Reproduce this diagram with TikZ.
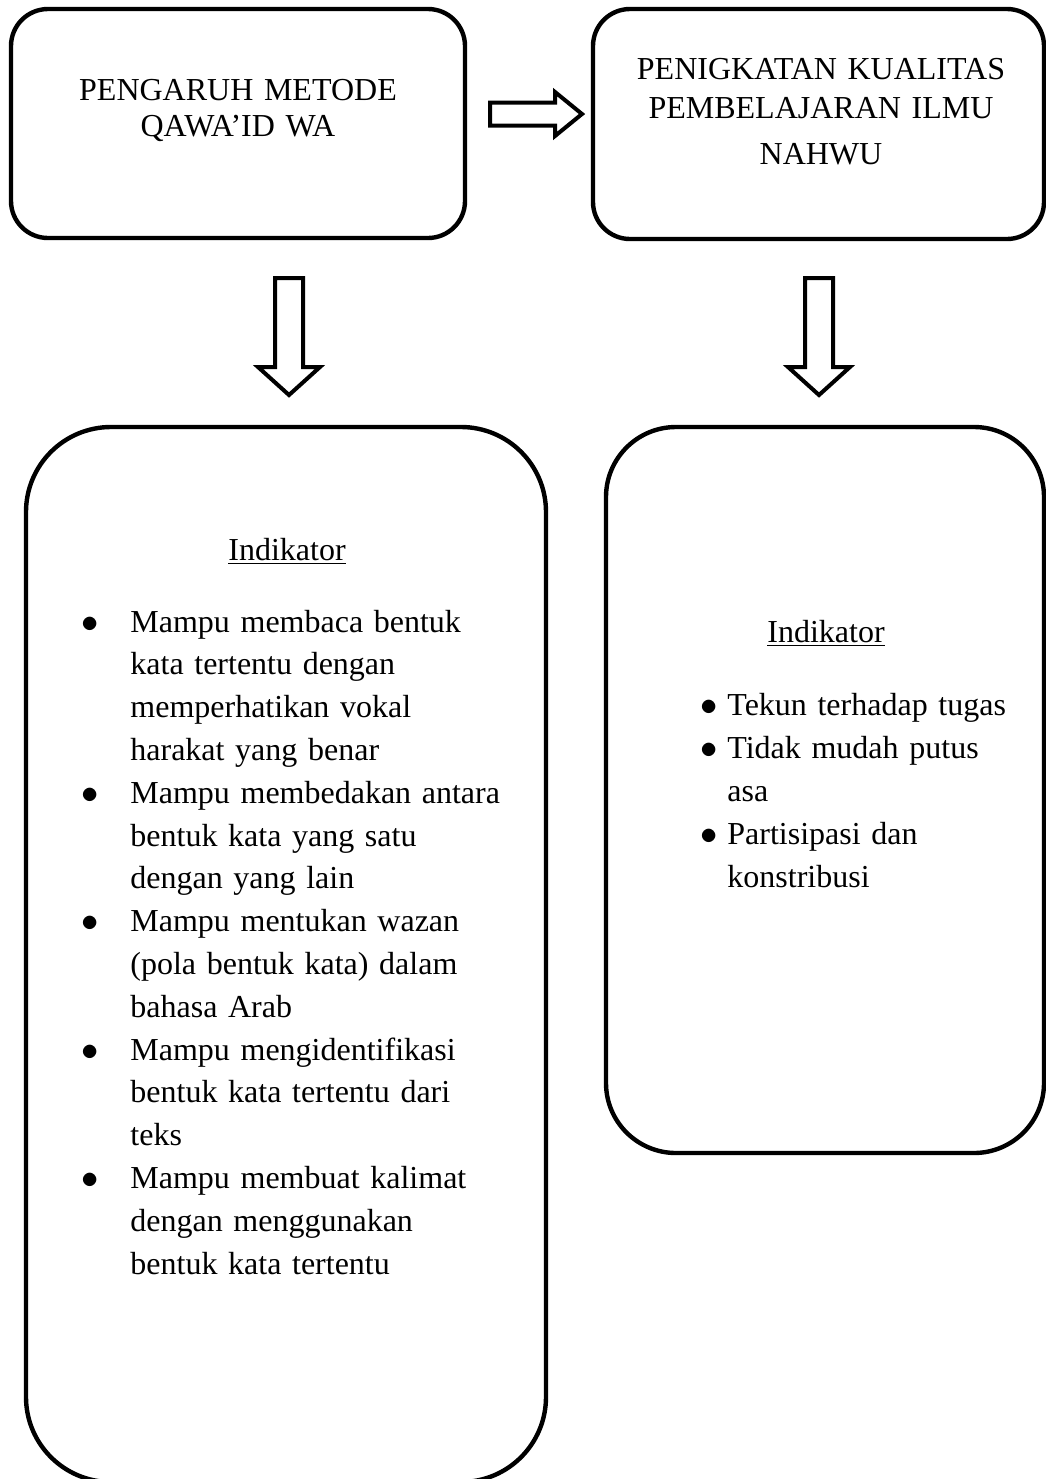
\documentclass[tikz,border=0pt]{standalone}
\usepackage{fontspec}
\setmainfont{Liberation Serif}
\usetikzlibrary{calc}

\newcommand{\bul}[2][24.5pt]{\makebox[#1][l]{$\bullet$}#2}
\newcommand{\cnt}[2][24.5pt]{\hspace*{#1}#2}

\tikzset{
	box/.style={draw, line width=2.2pt, inner sep=0pt, outer sep=0pt},
	blockarrow/.style={draw, line width=2pt, line join=miter},
	title/.style={inner sep=0pt, text width=220pt, align=center, font=\fontsize{16pt}{18pt}\selectfont},
	head/.style={inner sep=0pt, font=\fontsize{16pt}{16pt}\selectfont},
	list/.style={inner sep=0pt, align=left, font=\fontsize{16pt}{21.4pt}\selectfont},
}

\begin{document}
\begin{tikzpicture}[x=0.5pt, y=-0.5pt]
		\useasboundingbox (0,0) rectangle (1045,1479);

		% boxes
		\node[box, minimum width=227pt, minimum height=114.5pt, rounded corners=18.5pt] (topL) at (238,123.5) {};
		\node[box, minimum width=225.5pt, minimum height=115pt, rounded corners=18.5pt] (topR) at (818.5,124) {};
		\node[box, minimum width=260pt, minimum height=527.5pt, rounded corners=42.5pt] (botL) at (286,954.5) {};
		\node[box, minimum width=219pt, minimum height=363pt, rounded corners=35pt] (botR) at (825,790) {};

		% block arrows
		\coordinate (aR) at (490,114);
		\coordinate (aL) at (289,278);
		\coordinate (aD) at (819,278);
		\draw[blockarrow] (aR) ++(0,-11.5) -- ++(65,0) -- ++(0,-10.5) -- ++(27,22) -- ++(-27,22) -- ++(0,-10.5) -- ++(-65,0) -- cycle;
		\draw[blockarrow] (aL) ++(-14,0) -- ++(0,89) -- ++(-17,0) -- ++(31,28) -- ++(31,-28) -- ++(-17,0) -- ++(0,-89) -- cycle;
		\draw[blockarrow] (aD) ++(-14,0) -- ++(0,89) -- ++(-17,0) -- ++(31,28) -- ++(31,-28) -- ++(-17,0) -- ++(0,-89) -- cycle;

		% titles
		\node[title, anchor=base] (tL) at (238,100) {PENGARUH METODE\\ QAWA’ID WA};
		\node[title, anchor=base, font=\fontsize{16pt}{19.5pt}\selectfont] (tR) at (821,79) {PENIGKATAN KUALITAS\\ PEMBELAJARAN ILMU\\[3.5pt] NAHWU};

		% indikator
		\node[head, anchor=base] (hL) at (287,560) {\underline{Indikator}};
		\node[head, anchor=base] (hR) at (826,642) {\underline{Indikator}};

		\node[list, text width=232pt, anchor=base west] (lL) at (81,632) {%
			\bul{Mampu membaca bentuk}\\
			\cnt{kata tertentu dengan}\\
			\cnt{memperhatikan vokal}\\
			\cnt{harakat yang benar}\\
			\bul{Mampu membedakan antara}\\
			\cnt{bentuk kata yang satu}\\
			\cnt{dengan yang lain}\\
			\bul{Mampu mentukan wazan}\\
			\cnt{(pola bentuk kata) dalam}\\
			\cnt{bahasa Arab}\\
			\bul{Mampu mengidentifikasi}\\
			\cnt{bentuk kata tertentu dari}\\
			\cnt{teks}\\
			\bul{Mampu membuat kalimat}\\
			\cnt{dengan menggunakan}\\
			\cnt{bentuk kata tertentu}};

		\node[list, text width=170pt, anchor=base west, font=\fontsize{16pt}{21.5pt}\selectfont] (lR) at (700,715) {%
			\bul[13.5pt]{Tekun terhadap tugas}\\
			\bul[13.5pt]{Tidak mudah putus}\\
			\cnt[13.5pt]{asa}\\
			\bul[13.5pt]{Partisipasi dan}\\
			\cnt[13.5pt]{konstribusi}};

	\end{tikzpicture}
\end{document}
